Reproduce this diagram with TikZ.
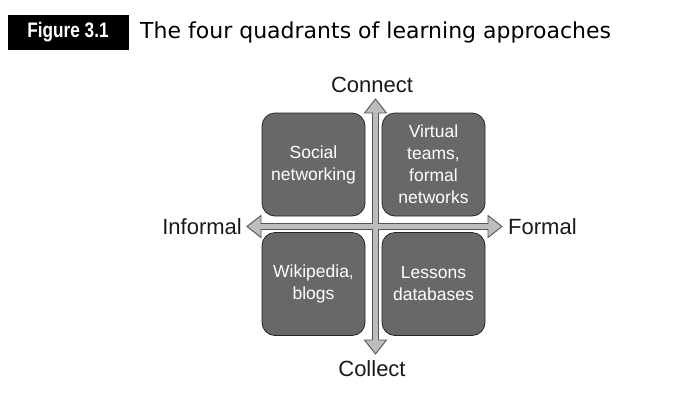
\documentclass[tikz,border=0pt]{standalone}
\usepackage{fontspec}
\setmainfont{Liberation Sans}
\newfontfamily\titlefont[FakeStretch=0.82]{Liberation Sans}
\newfontfamily\capfont{DejaVu Sans}
\definecolor{boxgrey}{HTML}{686868}
\definecolor{arrowfill}{HTML}{BDBDBD}
\definecolor{arrowline}{HTML}{555555}
\tikzset{
  quad/.style={draw=black!85, line width=0.8pt, fill=boxgrey, rounded corners=13pt,
    minimum width=103pt, minimum height=103pt, inner sep=0pt, text=white,
    align=center, font=\fontsize{17.5}{22}\selectfont},
  axislabel/.style={inner sep=0pt, font=\fontsize{22}{26}\selectfont, text=black!90},
}
\begin{document}
\begin{tikzpicture}[x=1pt,y=-1pt]
\useasboundingbox (0,0) rectangle (687,405);
% title
\node[fill=black, minimum width=121pt, minimum height=35pt, inner sep=0pt, text=white,
  font=\titlefont\bfseries\fontsize{21}{24}\selectfont] (fig) at (68,32.5) {Figure 3.1};
\node[anchor=west, inner sep=0pt, font=\capfont\fontsize{22}{26}\selectfont] (title) at (140,32.5) {The four quadrants of learning approaches};
% cross arrows
\def\cx{375.5}\def\cy{226.5}
\draw[fill=arrowfill, draw=arrowline, line width=0.9pt, line join=miter]
  (\cx,99) -- (\cx+11,113) -- (\cx+3,113) -- (\cx+3,\cy-3) -- (488,\cy-3) -- (488,\cy-11)
  -- (502,\cy) -- (488,\cy+11) -- (488,\cy+3) -- (\cx+3,\cy+3) -- (\cx+3,340) -- (\cx+11,340)
  -- (\cx,354) -- (\cx-11,340) -- (\cx-3,340) -- (\cx-3,\cy+3) -- (261,\cy+3) -- (261,\cy+11)
  -- (247,\cy) -- (261,\cy-11) -- (261,\cy-3) -- (\cx-3,\cy-3) -- (\cx-3,113) -- (\cx-11,113) -- cycle;
% quadrants
\node[quad] (tl) at (313.5,164.5) {Social\\networking};
\node[quad, text depth=0pt] (tr) at (433.5,164.5) {Virtual\\teams,\\formal\\networks};
\node[quad] (bl) at (313.5,284) {Wikipedia,\\blogs};
\node[quad] (br) at (433.5,284) {Lessons\\databases};
% axis labels
\node[axislabel] (connect) at (372,85) {Connect};
\node[axislabel] (collect) at (372,369) {Collect};
\node[axislabel, anchor=east] (informal) at (242,227) {Informal};
\node[axislabel, anchor=west] (formal) at (508,227) {Formal};
\end{tikzpicture}
\end{document}
